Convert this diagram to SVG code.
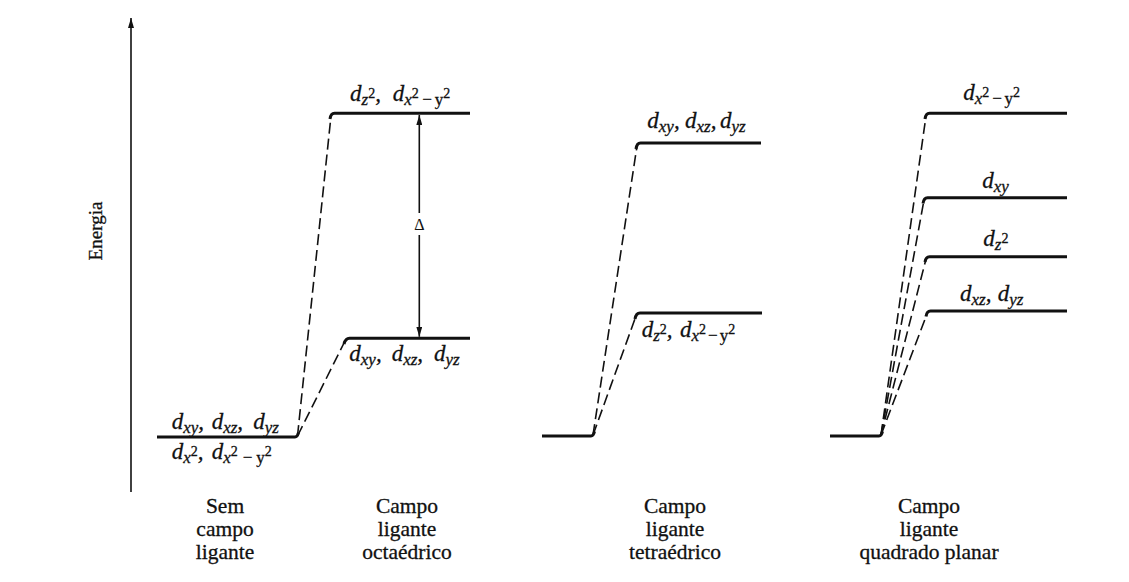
<svg xmlns="http://www.w3.org/2000/svg" width="1129" height="582" viewBox="0 0 1129 582">
<style>
.lvl{fill:none;stroke:#111;stroke-width:3;stroke-linecap:butt;stroke-linejoin:round}
.dash{fill:none;stroke:#111;stroke-width:1.6;stroke-dasharray:11 5}
.ax{fill:none;stroke:#111;stroke-width:1.6}
text{font-family:"Liberation Serif","Times New Roman",serif;fill:#111;stroke:#111;stroke-width:0.3}
.t{font-size:23px;font-style:italic}
.s{font-size:17px;font-style:italic}
.p{font-size:14px;font-style:normal}
.r{font-size:17px;font-style:normal}
.cap{font-size:21.5px;text-anchor:middle}
</style>
<defs>
<marker id="arr" viewBox="0 0 10 6" refX="10" refY="3" markerWidth="10" markerHeight="6" markerUnits="userSpaceOnUse" orient="auto">
<path d="M0,0 L10,3 L0,6 z" fill="#111"/>
</marker>
</defs>
<rect x="0" y="0" width="1129" height="582" fill="#ffffff"/>

<g id="axis">
<line class="ax" x1="131" y1="492" x2="131" y2="18" marker-end="url(#arr)"/>
<text transform="translate(102,231) rotate(-90)" style="font-size:19px" text-anchor="middle">Energia</text>
</g>

<g id="connectors">
<line class="dash" x1="297.5" y1="436" x2="331" y2="116"/>
<line class="dash" x1="297.5" y1="436" x2="345" y2="341"/>
<line class="dash" x1="593" y1="435" x2="637" y2="146"/>
<line class="dash" x1="593" y1="435" x2="636" y2="316"/>
<line class="dash" x1="881" y1="435" x2="926" y2="116"/>
<line class="dash" x1="881" y1="435" x2="924" y2="200"/>
<line class="dash" x1="881" y1="435" x2="926" y2="259"/>
<line class="dash" x1="881" y1="435" x2="927" y2="314"/>
<line class="ax" x1="419.3" y1="213" x2="419.3" y2="115" marker-end="url(#arr)"/>
<line class="ax" x1="419.3" y1="235" x2="419.3" y2="336.8" marker-end="url(#arr)"/>
<text x="419.3" y="229.5" style="font-size:16px;stroke-width:0.1" text-anchor="middle">Δ</text>
</g>

<g id="free-ion">
<path class="lvl" d="M157,437 H295 Q297.5,437 298.5,432.5"/>
<text class="t" y="429"><tspan x="171.7">d</tspan><tspan class="s" dy="4">xy</tspan><tspan dy="-4">,</tspan><tspan x="211.7">d</tspan><tspan class="s" dy="4">xz</tspan><tspan dy="-4">,</tspan><tspan x="253.3">d</tspan><tspan class="s" dy="4">yz</tspan></text>
<text class="t" y="459"><tspan x="171.7">d</tspan><tspan class="s" dy="4">x</tspan><tspan class="p" dy="-7">2</tspan><tspan dy="3">,</tspan><tspan x="211.7">d</tspan><tspan class="s" dy="4">x</tspan><tspan class="p" dy="-7">2</tspan><tspan class="r" dy="7" dx="5">−</tspan><tspan class="r" dx="4">y</tspan><tspan class="p" dy="-7">2</tspan></text>
<text class="cap"><tspan x="225" y="513">Sem</tspan><tspan x="225" y="536">campo</tspan><tspan x="225" y="559">ligante</tspan></text>
</g>

<g id="octa-eg">
<path class="lvl" d="M330,119 Q330.8,113.3 334.5,113.3 H470"/>
<text class="t" y="101"><tspan x="350">d</tspan><tspan class="s" dy="4">z</tspan><tspan class="p" dy="-7">2</tspan><tspan dy="3">,</tspan><tspan x="392.7">d</tspan><tspan class="s" dy="4">x</tspan><tspan class="p" dy="-7">2</tspan><tspan class="r" dy="7" dx="3.5">−</tspan><tspan class="r" dx="3">y</tspan><tspan class="p" dy="-7">2</tspan></text>
</g>
<g id="octa-t2g">
<path class="lvl" d="M344,344 Q345.5,338.3 349.5,338.3 H470"/>
<text class="t" y="361"><tspan x="349.3">d</tspan><tspan class="s" dy="4">xy</tspan><tspan dy="-4">,</tspan><tspan x="391.7">d</tspan><tspan class="s" dy="4">xz</tspan><tspan dy="-4">,</tspan><tspan x="434">d</tspan><tspan class="s" dy="4">yz</tspan></text>
<text class="cap"><tspan x="407" y="513">Campo</tspan><tspan x="407" y="536">ligante</tspan><tspan x="407" y="559">octaédrico</tspan></text>
</g>

<g id="tetra-base">
<path class="lvl" d="M542,436 H591 Q593.5,436 594.5,431.5"/>
<text class="cap"><tspan x="675" y="513">Campo</tspan><tspan x="675" y="536">ligante</tspan><tspan x="675" y="559">tetraédrico</tspan></text>
</g>
<g id="tetra-t2">
<path class="lvl" d="M636,149 Q636.8,143 640.5,143 H761"/>
<text class="t" y="128"><tspan x="647.3">d</tspan><tspan class="s" dy="4">xy</tspan><tspan dy="-4">,</tspan><tspan x="685">d</tspan><tspan class="s" dy="4">xz</tspan><tspan dy="-4">,</tspan><tspan x="720">d</tspan><tspan class="s" dy="4">yz</tspan></text>
</g>
<g id="tetra-e">
<path class="lvl" d="M635,319 Q636,313 640,313 H762"/>
<text class="t" y="336.5"><tspan x="641.7">d</tspan><tspan class="s" dy="4">z</tspan><tspan class="p" dy="-7">2</tspan><tspan dy="3">,</tspan><tspan x="680">d</tspan><tspan class="s" dy="4">x</tspan><tspan class="p" dy="-7">2</tspan><tspan class="r" dy="7" dx="2">−</tspan><tspan class="r" dx="2">y</tspan><tspan class="p" dy="-7">2</tspan></text>
</g>

<g id="sqp-base">
<path class="lvl" d="M830,436 H879 Q881.5,436 882.5,431.5"/>
<text class="cap"><tspan x="929" y="513">Campo</tspan><tspan x="929" y="536">ligante</tspan><tspan x="929" y="559">quadrado planar</tspan></text>
</g>
<g id="sqp-x2y2">
<path class="lvl" d="M925,119 Q925.8,113.3 929.5,113.3 H1067"/>
<text class="t" y="99.5"><tspan x="963.3">d</tspan><tspan class="s" dy="4">x</tspan><tspan class="p" dy="-7">2</tspan><tspan class="r" dy="7" dx="3">−</tspan><tspan class="r" dx="2.5">y</tspan><tspan class="p" dy="-7">2</tspan></text>
</g>
<g id="sqp-xy">
<path class="lvl" d="M923,203.5 Q923.8,197.7 927.5,197.7 H1067"/>
<text class="t" y="187.5"><tspan x="982.3">d</tspan><tspan class="s" dy="4">xy</tspan></text>
</g>
<g id="sqp-z2">
<path class="lvl" d="M925,262 Q925.8,256.7 929.5,256.7 H1067"/>
<text class="t" y="246"><tspan x="983.3">d</tspan><tspan class="s" dy="4">z</tspan><tspan class="p" dy="-7">2</tspan></text>
</g>
<g id="sqp-xzyz">
<path class="lvl" d="M926,316.5 Q926.8,311 930.5,311 H1067"/>
<text class="t" y="301"><tspan x="960">d</tspan><tspan class="s" dy="4">xz</tspan><tspan dy="-4">,</tspan><tspan x="997.7">d</tspan><tspan class="s" dy="4">yz</tspan></text>
</g>
</svg>
